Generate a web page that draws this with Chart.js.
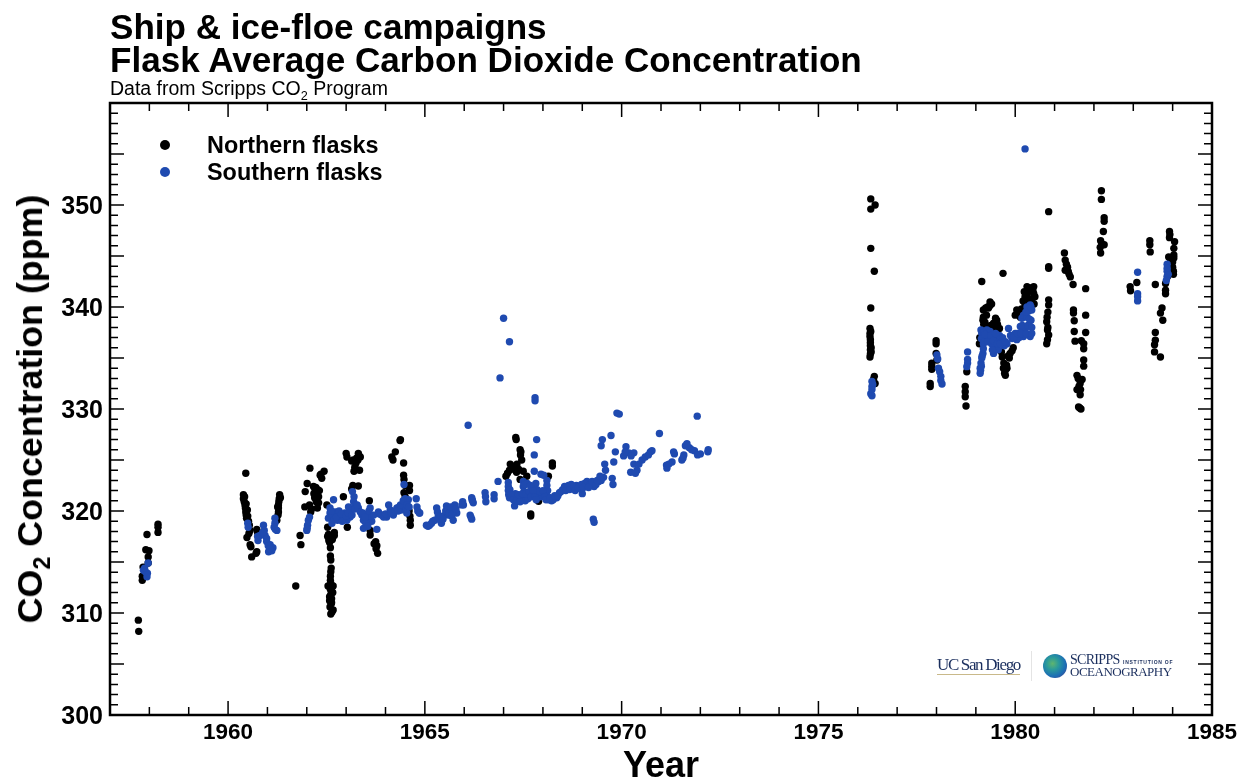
<!DOCTYPE html>
<html>
<head>
<meta charset="utf-8">
<script src="https://cdn.jsdelivr.net/npm/chart.js@4"></script>
<style>
html, body { margin: 0; padding: 0; background: #fff; }
#wrap { position: relative; width: 1247px; height: 780px; overflow: hidden; font-family: "Liberation Sans", Arial, sans-serif; color: #000; }
#wrap div { position: absolute; white-space: nowrap; }
canvas { position: absolute; left: 0; top: 0; }
.t { font-weight: bold; font-size: 35.1px; line-height: 33px; left: 110px; }
sub { font-size: 65%; line-height: 0; }
.leg { font-weight: bold; font-size: 23.4px; line-height: 28px; left: 207px; }
.dot { width: 10px; height: 10px; border-radius: 50%; left: 160px; }
.serif { font-family: "Liberation Serif", serif; color: #1b2f5e; }
</style>
</head>
<body>
<div id="wrap">
  <canvas id="chart" width="1247" height="780"></canvas>
  <div class="t" style="top:10px">Ship &amp; ice-floe campaigns</div>
  <div class="t" style="top:43px">Flask Average Carbon Dioxide Concentration</div>
  <div style="left:110px;top:77px;font-size:19.5px;line-height:22px">Data from Scripps CO<sub>2</sub> Program</div>
  <div id="ytitle" style="left:30px;top:408.5px;font-weight:bold;font-size:35.8px;line-height:40px;transform:translate(-50%,-50%) rotate(-90deg)">CO<sub>2</sub> Concentration (ppm)</div>
  <div class="dot" style="top:140px;background:#000"></div>
  <div class="leg" style="top:131px">Northern flasks</div>
  <div class="dot" style="top:167px;background:#1f4ab0"></div>
  <div class="leg" style="top:158px">Southern flasks</div>
  <div class="serif" style="left:937px;top:655px;font-size:17px;letter-spacing:-1.35px;border-bottom:1px solid #c9b98a;line-height:19px">UC San Diego</div>
  <div style="left:1031px;top:651px;width:1px;height:30px;background:#e4e4e4"></div>
  <div style="left:1043px;top:654px;width:24px;height:24px;border-radius:50%;background:radial-gradient(circle at 40% 40%,#5fb56f 0%,#2a9a9a 30%,#1c6fb5 62%,#4a2f80 100%)"></div>
  <div class="serif" style="left:1070px;top:654px;font-size:14px;letter-spacing:-0.7px;line-height:12px">SCRIPPS</div>
  <div class="serif" style="left:1123px;top:659px;font-family:'Liberation Sans';font-size:5px;letter-spacing:0.75px;font-weight:bold;line-height:6px">INSTITUTION OF</div>
  <div class="serif" style="left:1070px;top:666px;font-size:13px;letter-spacing:-0.5px;line-height:12px">OCEANOGRAPHY</div>
</div>
<script>
xLabels = [1960, 1965, 1970, 1975, 1980, 1985];
yLabels = [300, 310, 320, 330, 340, 350];

// year, ppm
northFlasks = [
[1957.72,309.3],[1957.73,308.2],[1957.82,313.2],[1957.82,313.6],[1957.84,314.5],[1957.94,317.7],[1957.91,316.2],[1957.99,316.1],[1957.97,315.5],[1957.97,314.9],[1958.22,318.7],[1958.22,318.4],[1958.22,317.9],
[1960.45,323.7],[1960.39,321.6],[1960.39,321.2],[1960.41,320.9],[1960.43,320.6],[1960.44,320.3],[1960.45,319.9],[1960.46,319.6],[1960.47,319.3],[1960.52,319],[1960.54,318.6],[1960.56,318.1],[1960.53,317.8],[1960.48,317.4],[1960.56,316.7],[1960.58,316.5],[1960.6,315.5],[1960.73,318.2],[1960.75,317.9],[1960.73,316],[1960.71,315.85],[1960.42,321.4],[1960.46,320.7],[1960.49,320.1],[1960.5,319.5],
[1961.31,321.6],[1961.3,321.2],[1961.29,320.9],[1961.28,320.6],[1961.28,320.3],[1961.28,319.9],[1961.27,319.6],[1961.24,319.1],[1961.26,320.4],[1961.33,321.3],
[1961.72,312.65],[1961.83,317.6],[1961.85,316.7],[1962.01,322.7],[1961.96,321.9],[1961.95,320.4],[1962.07,320.6],[1962.08,324.2],[1962.1,319.9],[1962.17,322.4],[1962.21,322.1],[1962.25,321.8],[1962.3,321.4],[1962.25,321.1],[1962.3,320.8],[1962.27,320.3],[1962.34,323.5],[1962.44,323.9],[1962.38,323.2],[1962.51,320.6],[1962.18,321.7],[1962.23,322.3],[1962.32,322],[1962.2,321.3],[1962.28,322.1],[1962.24,320.9],[1962.36,323.6],[1962.12,320.2],
[1962.53,317.5],[1962.58,316.9],[1962.6,316.4],[1962.61,315.2],[1962.61,314.05],[1962.6,313.6],[1962.61,312.9],[1962.54,312.65],[1962.67,312.65],[1962.6,312.3],[1962.61,311.8],[1962.63,311.4],[1962.59,310.6],[1962.67,310.3],[1962.61,309.9],[1962.55,317.7],[1962.53,318.4],[1962.7,317.6],[1962.7,317.9],[1962.6,313.2],[1962.64,312.1],[1962.58,311.2],[1962.62,310.9],[1962.6,315.6],[1962.62,314.4],[1962.65,317.2],[1962.56,317.1],[1962.63,311],[1962.66,312],[1962.58,311.6],[1962.64,310.1],
[1963,325.65],[1963.02,325.3],[1963.14,324.9],[1963.31,325.65],[1963.36,325.3],[1963.25,324.7],[1963.2,323.9],[1963.34,324],[1963.31,322.45],[1963.14,322.15],[1962.93,321.4],[1963.59,321],[1963.61,318.1],[1963.61,317.65],[1963.71,316.8],[1963.78,316.6],[1963.8,315.85],[1963.76,316.3],[1963.03,318.4],[1963.27,325.2],[1963.22,324.3],[1963.3,325],[1963.33,325.4],[1963.18,325],[1963.24,324.1],[1963.17,322.5],[1963.75,317],
[1964.37,326.9],[1964.25,325.8],[1964.16,325.3],[1964.19,325],[1964.46,324.7],[1964.46,323.5],[1964.47,323.1],[1964.5,322.5],[1964.61,322.5],[1964.61,322],[1964.47,321.8],[1964.5,321.4],[1964.63,319.1],[1964.63,318.6],[1964.38,327],[1964.6,320],[1964.62,319.5],
[1967.31,327.2],[1967.32,327],[1967.42,326],[1967.43,325.5],[1967.46,325],[1967.17,324.6],[1967.34,324.6],[1967.38,324.1],[1967.5,323.9],[1967.06,323.4],[1967.59,323.4],[1968.24,324.7],[1968.24,324.4],[1967.89,320.95],[1967.69,319.5],[1967.69,319.7],[1968.14,323.4],[1967.42,323.1],[1967.15,324],[1967.1,323.7],[1967.2,324.4],[1967.3,324],[1967.33,323.8],[1967.44,325.8],
[1976.33,350.6],[1976.44,350],[1976.33,349.6],[1976.33,345.75],[1976.42,343.5],[1976.33,339.9],[1976.31,337.9],[1976.31,337.4],[1976.31,337.1],[1976.32,336.8],[1976.32,336.5],[1976.32,336.2],[1976.32,335.8],[1976.32,335.4],[1976.31,335.1],[1976.42,333.2],[1976.44,332.5],[1976.4,332.9],[1976.33,337.6],[1976.34,336],[1976.34,335.6],
[1977.99,336.7],[1977.99,336.4],[1977.99,335.45],[1978.01,334.8],[1977.88,334.5],[1977.88,333.9],[1977.84,332.5],[1977.84,332.2],[1977.88,334.2],
[1978.77,333.65],[1978.73,332.2],[1978.73,331.7],[1978.73,331.2],[1978.75,330.3],
[1979.15,342.5],[1979.69,343.3],[1979.36,340.5],[1979.4,340.3],[1979.32,339.9],[1979.19,339.7],[1979.19,339],[1979.23,338.5],[1979.53,338.7],[1979.49,338],[1979.09,336.4],[1979.75,333.3],[1979.79,334],[1979.71,334.5],[1979.67,335.1],[1979.87,335.45],[1979.95,336],[1980.04,339.7],[1980.13,339],[1980.3,341.3],[1980.3,342],[1980.47,342],[1980.47,341.3],[1980.38,341.6],[1980.38,340.8],[1979.3,340],[1979.27,339.2],[1979.22,337.8],[1979.1,337],[1979.75,333.8],[1979.7,334],[1979.85,335],[1980.2,340.6],[1980.25,340.2],[1980.42,340.6],
[1979.25,339.9],[1979.35,340.1],[1979.2,338.3],[1979.18,338.7],[1979.27,338],[1979.38,338.2],[1979.45,338.4],[1979.5,338.9],[1979.55,338.3],[1979.6,337.9],[1979.65,335.6],[1979.73,333.5],[1979.78,334.3],[1979.82,335.2],[1979.92,335.7],[1980,339.2],[1980.08,339.4],[1980.25,341],[1980.33,341.8],[1980.42,341.9],[1980.45,341.6],[1980.28,340.6],[1980.35,340.4],[1980.5,341],[1980.16,339.8],[1980.23,341.5],[1980.48,340.3],
[1980.85,349.35],[1980.85,343.95],[1980.85,343.8],[1980.85,340.7],[1980.85,340.2],[1980.83,339.5],[1980.8,338.55],[1980.82,337.75],[1980.85,337.25],[1980.8,336.4],[1980.82,336.8],[1980.83,338],[1980.81,339],
[1981.25,345.3],[1981.27,344.6],[1981.33,343.9],[1981.27,343.6],[1981.35,343.45],[1981.4,342.95],[1981.47,342.2],[1981.79,341.8],[1981.48,339.7],[1981.5,338.65],[1981.5,337.6],[1981.52,336.65],[1981.79,339.2],[1981.79,337.5],[1981.74,336.4],[1981.74,335.9],[1981.74,334.8],[1981.74,334.2],[1981.57,333.3],[1981.7,332.9],[1981.65,332.5],[1981.57,331.9],[1981.65,331.4],[1981.61,330.2],[1981.67,330],[1981.62,332.2],[1981.64,330.1],[1981.68,336.7],[1981.3,344.2],[1981.37,343.2],[1981.48,339.4],[1981.6,333],[1981.66,331.9],
[1982.19,351.4],[1982.19,350.55],[1982.26,348.75],[1982.26,348.4],[1982.24,347.4],[1982.17,346.5],[1982.26,346.1],[1982.16,345.85],[1982.17,345.3],[1982.2,346.2],
[1982.92,342],[1982.93,341.6],[1983.09,342.4],[1983.42,346.5],[1983.42,346.1],[1983.43,345.4],[1983.56,342.2],[1983.73,339.9],[1983.69,339.4],[1983.75,338.7],[1983.56,337.5],[1983.56,336.75],[1983.54,336.3],[1983.54,335.6],[1983.69,335.1],
[1983.92,347.4],[1983.92,346.8],[1984.05,346.4],[1984.03,345.75],[1984.03,345.1],[1983.9,344.9],[1984.03,344.8],[1984.02,343.5],[1984.02,343.2],[1983.82,341.3],[1983.82,341.65],[1983.82,342.3],[1983.93,347.1],[1984,344.4],[1983.87,343],[1983.95,344.6],[1984,343.9]
];

southFlasks = [
[1957.97,314.9],[1957.85,314.2],[1957.9,314.05],[1957.95,313.9],[1957.94,313.55],[1957.88,314.4],
[1960.5,318.8],[1960.51,318.4],[1960.75,317.5],[1960.76,317.1],[1960.81,317.6],[1960.9,318.6],[1960.92,318.1],[1960.94,317.6],[1960.98,317.3],[1960.98,317],[1961.07,316.7],[1961.14,316.4],[1961.03,316],[1961.11,316.1],[1961.19,319.3],[1961.19,318.8],[1961.17,318.4],[1961.24,318.1],[1961.02,316.6],[1960.88,317.9],[1961.06,316.3],[1961.2,318.2],
[1962,318.1],[1962.02,318.6],[1962.04,319.1],[1962.07,319.4],[1962.01,318.3],
[1962.59,320.3],[1962.59,319.8],[1962.55,319.3],[1962.64,318.8],[1962.68,321.1],[1962.72,319.9],[1962.78,319.1],[1962.85,319.6],[1962.93,319.3],[1963.02,319.1],[1963.06,320.4],[1963.1,319.4],[1963.16,321.9],[1963.2,321.4],[1963.19,320.9],[1963.31,320.3],[1963.36,319.9],[1963.44,319.1],[1963.4,319.6],[1963.44,318.3],[1963.53,319.3],[1963.61,320.3],[1963.57,319.7],[1963.65,319],[1963.78,318.2],[1963.82,319.9],[1963.9,319.6],[1964.03,319.4],[1964.08,320.6],[1964.2,319.6],[1964.29,320.3],[1964.42,320.6],[1964.47,322.6],[1964.5,321.2],[1964.58,321.1],[1964.54,319.8],[1964.78,321.2],[1964.8,320.4],[1964.86,319.8],[1962.65,319.6],[1962.7,319.2],[1962.8,319.7],[1962.9,319],[1962.97,319.8],[1963.12,320],[1963.23,320.6],[1963.6,319.5],[1963.5,318.8],[1964.4,320.1],[1964.48,320.5],[1964.52,320.2],[1964.35,320.4],
[1962.62,320],[1962.75,319.4],[1962.82,320],[1962.88,319.7],[1963,319.5],[1963.05,319.8],[1963.15,319.6],[1963.22,320.2],[1963.28,320.6],[1963.42,319.8],[1963.48,319.4],[1963.55,318.5],[1963.58,320],[1963.7,319.6],[1963.85,319.7],[1963.95,319.4],[1964,319.7],[1964.12,320.1],[1964.15,319.8],[1964.25,320],[1964.32,320],[1964.38,320.6],[1964.45,321],[1964.55,320.6],[1964.6,320.4],[1964.82,320],
[1964.87,319.8],[1965.08,318.5],[1965.17,318.8],[1965.3,320.3],[1965.34,319.5],[1965.42,318.8],[1965.51,319.6],[1965.55,320.5],[1965.64,320],[1965.72,319.1],[1965.76,320.6],[1965.81,319.8],[1965.96,320.9],[1966.19,321.3],[1966.23,320.8],[1966.15,319.6],[1966.19,319.2],[1966.53,321.8],[1966.55,320.9],[1966.76,321.6],[1966.76,321.2],[1965.12,318.6],[1965.25,319.1],[1965.37,319.2],[1965.6,319.6],[1965.68,319.5],[1965.74,320.1],[1965.98,320.6],[1966.21,321],[1966.54,321.4],
[1965.04,318.6],[1965.2,319],[1965.32,319.9],[1965.4,319.5],[1965.46,319.2],[1965.53,320],[1965.58,320.2],[1965.62,319.8],[1965.66,320.4],[1965.7,319.7],[1965.79,320.2],[1965.94,320.6],[1966.17,319.4],[1966.2,321.1],
[1967,338.9],[1967.15,336.6],[1966.91,333.05],[1967.8,331.1],[1967.8,330.8],[1966.1,328.4],[1967.84,327],[1967.78,325.5],[1966.86,322.9],[1967.78,323.9],[1967.95,323.6],[1969.88,329.6],[1969.94,329.5],[1971.92,329.3],[1970.96,327.6],[1969.73,327.4],[1969.51,327],[1969.48,326.4],[1969.84,325.8],
[1967.12,322.8],[1967.12,322.4],[1967.12,322],[1967.13,321.6],[1967.15,321.3],[1967.3,321.7],[1967.35,321.3],[1967.28,320.5],[1967.45,321.1],[1967.5,322.9],[1967.5,322.4],[1967.52,321.9],[1967.52,321.4],[1967.55,321],[1967.62,321.2],[1967.6,322.7],[1967.72,322.3],[1967.82,322.7],[1967.85,322.1],[1967.88,321.7],[1967.95,321.4],[1968.02,323.5],[1968.1,323],[1968.1,322.5],[1968.12,322],[1968.1,321.5],[1968.15,321.1],[1968.22,321],[1968.35,321.3],[1968.5,322.1],[1968.72,322.6],[1968.85,322.5],[1969,321.7],[1969.12,322.9],[1969.3,322.4],[1969.42,322.9],[1969.54,323.3],[1969.57,324.6],[1969.59,324],[1969.76,323.2],[1969.78,322.6],[1969.8,324.8],[1970.05,325.4],[1970.11,326.3],[1970.18,325.7],[1970.31,325.7],[1970.31,324.6],[1970.39,324],[1970.23,323.8],[1970.35,323.7],[1970.52,325],[1970.73,325.8],[1970.77,325.9],[1971.14,324.5],[1971.15,324.2],[1971.28,324.8],[1971.34,325.6],[1971.32,325.8],[1971.58,325.5],[1971.53,325],[1971.62,326.4],[1971.72,326.2],[1971.85,325.9],[1971.93,325.5],[1972,325.6],[1972.19,325.8],[1972.2,326],[1969.28,319.2],[1969.3,318.9],
[1970.09,325.8],[1970.24,325.4],[1970.44,324.6],[1970.6,325.3],[1970.68,325.5],[1971.2,324.6],[1971.56,325.2],[1971.66,326.6],[1971.78,326],[1968.42,321.8],[1968.6,322.3],[1968.95,322.2],[1969.06,322.7],[1969.2,322.6],[1969.48,323],
[1967.16,322.1],[1967.2,321.6],[1967.25,321.1],[1967.33,321],[1967.38,321.6],[1967.42,320.9],[1967.48,321.7],[1967.54,322.6],[1967.57,321.7],[1967.65,321.9],[1967.68,322.5],[1967.7,321.4],[1967.75,322],[1967.8,321.4],[1967.83,321.1],[1967.92,321.9],[1968,322],[1968.05,321.4],[1968.08,321.1],[1968.18,321.3],[1968.26,321.1],[1968.3,321.5],[1968.38,321.5],[1968.46,321.9],[1968.55,322.4],[1968.58,322],[1968.65,322.5],[1968.68,322.1],[1968.78,322.4],[1968.82,322],[1968.9,322.3],[1968.98,322.6],[1969.03,322.3],[1969.16,322.3],[1969.25,322.9],[1969.35,322.6],[1969.38,323],[1969.45,323.4],
[1976.36,332.7],[1976.36,332.2],[1976.33,331.5],[1976.38,332.4],[1976.36,331.9],[1976.36,331.3],
[1978.01,335.3],[1978.03,334.9],[1978.05,334],[1978.08,333.65],[1978.11,333.2],[1978.11,332.8],[1978.14,332.45],
[1978.79,335.6],[1978.79,334.85],[1978.79,334.5],[1978.77,334.15],
[1979.13,337.75],[1979.11,333.5],[1979.11,334],[1979.13,334.5],[1979.15,335],[1979.18,335.45],[1979.19,335.9],[1979.19,336.4],[1979.15,337.4],[1979.28,337.75],[1979.36,337.6],[1979.45,337.1],[1979.47,336.1],[1979.45,335.45],[1979.53,336.9],[1979.57,335.8],[1979.66,336.8],[1979.79,336.4],[1979.83,337.9],[1979.92,336.9],[1980,337.4],[1980.13,338.1],[1980.17,338.9],[1980.21,339.2],[1980.3,340],[1980.38,340.2],[1980.42,339.7],[1980.38,338.1],[1980.38,337.1],[1980.21,337.1],[1980.04,336.8],[1980.25,337.8],[1979.2,337.5],[1979.14,336.9],[1979.25,337],[1979.33,337],[1979.4,336.4],[1979.6,337.2],[1979.72,336.2],[1980.1,337],[1980.3,339],[1980.34,339.6],[1980.4,338.7],
[1979.12,333.8],[1979.14,334.2],[1979.16,335.2],[1979.21,336.6],[1979.23,337.3],[1979.3,336.6],[1979.38,337.2],[1979.42,335.8],[1979.44,336.7],[1979.5,337.4],[1979.55,336.4],[1979.62,336.4],[1979.68,337],[1979.75,336.6],[1979.88,337.2],[1979.96,337],[1980.06,337.4],[1980.15,337.4],[1980.18,338.2],[1980.27,339.5],[1980.32,338.2],[1980.36,338.8],[1980.28,337.4],[1980.42,338],[1980.42,337.4],[1980.4,340],
[1980.25,355.5],
[1983.11,343.4],[1983.11,341.3],[1983.11,341],[1983.11,340.6],[1983.86,344.2],[1983.86,343.5],[1983.86,343],[1983.84,342.6],[1983.89,343.2],[1983.86,343.8]
];

xMinor = [];
for (v = 1957; v <= 1985; v++) xMinor.push(v);
yMinor = [];
for (v = 300; v <= 360; v++) yMinor.push(v);

// inward ticks on all four sides, plus the frame
framePlugin = {
    id: 'frame',
    afterDatasetsDraw(chart) {
        const { ctx, chartArea: a, scales } = chart;
        ctx.save();
        ctx.strokeStyle = '#000';
        ctx.lineWidth = 1.5;
        ctx.beginPath();
        xMinor.forEach(v => {
            const x = scales.x.getPixelForValue(v);
            const len = v % 5 == 0 ? 14 : 8;
            ctx.moveTo(x, a.bottom); ctx.lineTo(x, a.bottom - len);
            ctx.moveTo(x, a.top); ctx.lineTo(x, a.top + len);
        });
        yMinor.forEach(v => {
            const y = scales.y.getPixelForValue(v);
            const len = v % 5 == 0 ? 14 : 8;
            ctx.moveTo(a.left, y); ctx.lineTo(a.left + len, y);
            ctx.moveTo(a.right, y); ctx.lineTo(a.right - len, y);
        });
        ctx.stroke();
        ctx.lineWidth = 2.5;
        ctx.strokeRect(a.left, a.top, a.right - a.left, a.bottom - a.top);
        ctx.restore();
    }
};

new Chart(document.getElementById('chart'), {
    type: 'scatter',
    data: {
        datasets: [
            { label: 'Southern flasks', data: southFlasks.map(p => ({ x: p[0], y: p[1] })), backgroundColor: '#1f4ab0', borderWidth: 0, pointRadius: 3.7, order: 1 },
            { label: 'Northern flasks', data: northFlasks.map(p => ({ x: p[0], y: p[1] })), backgroundColor: '#000', borderWidth: 0, pointRadius: 3.7, order: 2 }
        ]
    },
    plugins: [framePlugin],
    options: {
        responsive: false,
        animation: false,
        layout: { padding: { left: 0, right: 35, top: 103, bottom: 0 } },
        plugins: { legend: { display: false }, title: { display: false }, tooltip: { enabled: false } },
        scales: {
            x: {
                type: 'linear', min: 1957, max: 1985,
                afterBuildTicks: (axis) => { axis.ticks = xLabels.map(v => ({ value: v })); },
                afterFit: (axis) => { axis.height = 65; },
                grid: { display: false, drawTicks: false },
                border: { display: false },
                ticks: { color: '#000', padding: 4, autoSkip: false, maxRotation: 0, font: { family: 'Liberation Sans', weight: 'bold', size: 22.5 }, callback: v => String(v) },
                title: { display: true, text: 'Year', color: '#000', padding: { top: 0, bottom: 0 }, font: { family: 'Liberation Sans', weight: 'bold', size: 36, lineHeight: 0.7 } }
            },
            y: {
                type: 'linear', min: 300, max: 360,
                afterBuildTicks: (axis) => { axis.ticks = yLabels.map(v => ({ value: v })); },
                afterFit: (axis) => { axis.width = 110; },
                grid: { display: false, drawTicks: false },
                border: { display: false },
                ticks: { color: '#000', padding: 7, labelOffset: 2, autoSkip: false, font: { family: 'Liberation Sans', weight: 'bold', size: 25 }, callback: v => String(v) }
            }
        }
    }
});
</script>
</body>
</html>
